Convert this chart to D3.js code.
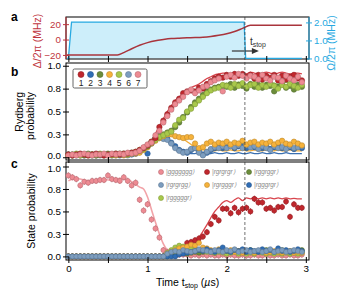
<!DOCTYPE html>
<html>
<head>
<meta charset="utf-8">
<script src="https://cdn.jsdelivr.net/npm/d3@7"></script>
<style>
  body { margin: 0; background: #fff; }
  text { font-family: "Liberation Sans", Arial, Helvetica, sans-serif; }
</style>
</head>
<body>
<svg id="fig" width="343" height="299"></svg>
<script>
// ---- data ----
const times = [0,0.05,0.1,0.15,0.2,0.25,0.3,0.35,0.4,0.45,
  0.5,0.55,0.6,0.65,0.7,0.75,0.8,0.85,0.9,0.95,
  1,1.05,1.1,1.15,1.2,1.25,1.3,1.35,1.4,1.45,
  1.5,1.55,1.6,1.65,1.7,1.75,1.8,1.85,1.9,1.95,
  2,2.05,2.1,2.15,2.2,2.25,2.3,2.35,2.4,2.45,
  2.5,2.55,2.6,2.65,2.7,2.75,2.8,2.85,2.9,2.95];

const tStop = 2.23;

// panel a: detuning sweep and Rabi drive
const sweepT = [-0.02,0.62,0.7,0.8,0.9,1.0,1.1,1.2,1.3,1.4,1.5,1.6,1.7,1.8,1.9,2.0,2.1,2.2,2.3,2.95];
const sweepDelta = [-20,-20,-17,-12,-7.5,-4,-1.5,0,1.2,1.8,2.2,2.5,3,4,5.5,7.5,10.5,14.5,18.5,18.5];
const rabiT = [-0.02,0,0.04,2.22,2.24,2.95];
const rabiOmega = [0,0,2.02,2.02,0,0];

// panel b: Rydberg probability per site
const site1 = [0.03,0.02,0.03,0.04,0.03,0.02,0.03,0.04,0.03,0.02,
  0.03,0.03,0.04,0.03,0.04,0.04,0.05,0.06,0.08,0.1,
  0.13,0.17,0.21,0.33,0.4,0.47,0.54,0.6,0.64,0.7,
  0.72,0.73,0.72,0.76,0.75,0.8,0.83,0.86,0.88,0.87,
  0.9,0.88,0.91,0.89,0.91,0.88,0.9,0.86,0.9,0.85,
  0.89,0.87,0.9,0.84,0.89,0.85,0.88,0.9,0.86,0.84];
const site2 = [0.02,0.03,0.02,0.03,0.02,0.03,0.02,0.02,0.03,0.02,
  0.03,0.02,0.03,0.02,0.03,0.03,0.03,0.04,0.06,0.09,
  0.04,0.15,0.2,0.23,0.22,0.2,0.16,0.12,0.08,0.06,
  0.05,0.08,0.1,0.06,0.03,0.05,0.08,0.1,0.12,0.1,
  0.11,0.13,0.1,0.12,0.14,0.1,0.12,0.11,0.13,0.1,
  0.12,0.09,0.11,0.13,0.1,0.12,0.11,0.09,0.12,0.1];
const site3 = [0.03,0.02,0.03,0.03,0.02,0.04,0.03,0.02,0.03,0.03,
  0.04,0.03,0.03,0.04,0.03,0.04,0.05,0.05,0.07,0.1,
  0.12,0.16,0.2,0.23,0.25,0.27,0.29,0.33,0.38,0.44,
  0.49,0.55,0.6,0.64,0.68,0.72,0.74,0.76,0.77,0.78,
  0.77,0.8,0.76,0.79,0.78,0.75,0.8,0.77,0.79,0.76,
  0.79,0.78,0.72,0.77,0.8,0.76,0.78,0.74,0.79,0.77];
const site4 = [0.02,0.02,0.03,0.02,0.03,0.02,0.03,0.02,0.03,0.02,
  0.02,0.03,0.02,0.03,0.02,0.03,0.04,0.04,0.05,0.08,
  0.11,0.15,0.18,0.21,0.23,0.25,0.25,0.23,0.22,0.21,
  0.22,0.22,0.15,0.1,0.11,0.15,0.17,0.14,0.16,0.15,
  0.17,0.14,0.16,0.15,0.18,0.14,0.16,0.17,0.14,0.16,
  0.15,0.17,0.14,0.16,0.18,0.15,0.14,0.17,0.15,0.13];
const site5 = [0.02,0.03,0.04,0.02,0.03,0.03,0.02,0.03,0.04,0.03,
  0.03,0.02,0.04,0.03,0.04,0.03,0.04,0.06,0.08,0.09,
  0.13,0.17,0.19,0.22,0.24,0.26,0.28,0.35,0.41,0.43,
  0.5,0.53,0.58,0.62,0.66,0.7,0.73,0.75,0.76,0.79,
  0.78,0.76,0.8,0.78,0.81,0.77,0.79,0.8,0.76,0.79,
  0.77,0.8,0.78,0.75,0.79,0.77,0.8,0.78,0.76,0.79];
const site6 = [0.03,0.02,0.03,0.02,0.03,0.02,0.03,0.03,0.02,0.03,
  0.02,0.03,0.02,0.03,0.03,0.02,0.04,0.04,0.06,0.09,
  0.12,0.16,0.2,0.21,0.2,0.19,0.15,0.1,0.07,0.05,
  0.06,0.09,0.1,0.05,0.02,0.06,0.09,0.11,0.1,0.12,
  0.1,0.12,0.11,0.13,0.1,0.13,0.11,0.12,0.09,0.12,
  0.1,0.08,0.12,0.1,0.11,0.09,0.12,0.1,0.11,0.12];
const site7 = [0.02,0.03,0.02,0.03,0.04,0.03,0.02,0.03,0.03,0.04,
  0.02,0.04,0.03,0.04,0.03,0.05,0.04,0.05,0.07,0.11,
  0.14,0.16,0.24,0.29,0.38,0.45,0.52,0.58,0.62,0.66,
  0.71,0.74,0.7,0.73,0.77,0.78,0.82,0.84,0.86,0.72,
  0.88,0.9,0.87,0.91,0.89,0.86,0.89,0.88,0.85,0.9,
  0.86,0.84,0.88,0.87,0.83,0.89,0.86,0.84,0.88,0.82];

// theory curves for panel b
const theoryEdge = [0.02,0.02,0.02,0.02,0.02,0.02,0.02,0.02,0.02,0.02,
  0.02,0.02,0.02,0.02,0.02,0.02,0.03,0.03,0.05,0.08,
  0.12,0.18,0.26,0.34,0.42,0.5,0.56,0.62,0.66,0.7,
  0.73,0.76,0.78,0.8,0.83,0.86,0.88,0.9,0.91,0.92,
  0.92,0.91,0.93,0.92,0.92,0.91,0.93,0.92,0.91,0.92,
  0.93,0.92,0.91,0.92,0.93,0.92,0.91,0.92,0.92,0.91];
const theoryInner = [0.02,0.02,0.02,0.02,0.02,0.02,0.02,0.02,0.02,0.02,
  0.02,0.02,0.02,0.02,0.02,0.02,0.03,0.03,0.05,0.08,
  0.11,0.15,0.19,0.22,0.24,0.26,0.29,0.33,0.38,0.43,
  0.49,0.54,0.59,0.64,0.68,0.72,0.75,0.77,0.79,0.8,
  0.81,0.8,0.81,0.82,0.81,0.8,0.81,0.82,0.81,0.8,
  0.81,0.82,0.81,0.8,0.81,0.82,0.81,0.8,0.81,0.81];
const theoryMid = [0.02,0.02,0.02,0.02,0.02,0.02,0.02,0.02,0.02,0.02,
  0.02,0.02,0.02,0.02,0.02,0.02,0.03,0.03,0.05,0.08,
  0.11,0.15,0.19,0.22,0.24,0.25,0.25,0.24,0.22,0.2,
  0.17,0.14,0.11,0.09,0.08,0.08,0.07,0.07,0.08,0.07,
  0.07,0.08,0.07,0.07,0.08,0.07,0.07,0.08,0.07,0.07,
  0.08,0.07,0.07,0.08,0.07,0.07,0.08,0.07,0.07,0.07];
const theoryOuter = [0.02,0.02,0.02,0.02,0.02,0.02,0.02,0.02,0.02,0.02,
  0.02,0.02,0.02,0.02,0.02,0.02,0.03,0.03,0.05,0.08,
  0.12,0.17,0.22,0.25,0.24,0.21,0.17,0.13,0.09,0.07,
  0.05,0.04,0.04,0.05,0.05,0.04,0.04,0.05,0.04,0.04,
  0.05,0.04,0.04,0.05,0.04,0.04,0.05,0.04,0.04,0.05,
  0.04,0.04,0.05,0.04,0.04,0.05,0.04,0.04,0.04,0.04];

// panel c: state probabilities
const stateGround = [0.9,0.88,0.86,0.79,0.83,0.82,0.84,0.84,0.85,0.85,
  0.9,0.86,0.85,0.84,0.88,0.84,0.79,0.82,0.63,0.51,
  0.58,0.41,0.31,0.21,0.07,0.05,0.03,0.02,0.02,0.02,
  0.02,0.01,0.02,0.01,0.02,0.01,0.02,0.01,0.01,0.02,
  0.01,0.02,0.01,0.01,0.02,0.01,0.01,0.02,0.01,0.01,
  0.02,0.01,0.01,0.02,0.01,0.01,0.02,0.01,0.01,0.02];
const stateNeel = [0,0,0,0,0,0,0,0,0,0,
  0,0,0,0,0,0,0,0,0,0,
  0,0,0,0,0,0.01,0.01,0.01,0.04,0.08,
  0.15,0.16,0.18,0.2,0.22,0.27,0.36,0.44,0.4,0.53,
  0.53,0.48,0.54,0.49,0.53,0.54,0.5,0.64,0.6,0.6,
  0.53,0.54,0.51,0.55,0.55,0.61,0.44,0.58,0.54,0.54];
const stateRggrggr = [0,0,0,0,0,0,0,0,0,0,
  0,0,0,0,0,0,0,0,0,0,
  0,0,0,0,0,0,0.02,0.03,0.03,0.04,
  0.03,0.04,0.05,0.04,0.05,0.06,0.05,0.04,0.06,0.05,
  0.06,0.05,0.07,0.06,0.05,0.06,0.07,0.05,0.06,0.05,
  0.07,0.06,0.05,0.06,0.07,0.05,0.06,0.05,0.06,0.07];
const stateRgrgrgg = [0,0,0,0,0,0,0,0,0,0,
  0,0,0,0,0,0,0,0,0,0,
  0,0,0,0,0,0.03,0.05,0.06,0.05,0.07,
  0.06,0.05,0.06,0.08,0.07,0.06,0.05,0.07,0.06,0.05,
  0.07,0.06,0.08,0.05,0.06,0.07,0.05,0.06,0.07,0.05,
  0.06,0.08,0.05,0.06,0.07,0.05,0.06,0.07,0.06,0.05];
const stateRgrgggr = [0,0,0,0,0,0,0,0,0,0,
  0,0,0,0,0,0,0,0,0,0,
  0,0,0,0,0,0.03,0.05,0.07,0.09,0.1,
  0.11,0.13,0.12,0.15,0.1,0.09,0.07,0.06,0.08,0.05,
  0.06,0.07,0.05,0.06,0.04,0.05,0.06,0.04,0.05,0.06,
  0.04,0.05,0.06,0.05,0.04,0.05,0.06,0.04,0.05,0.04];
const stateRgggrgr = [0,0,0,0,0,0,0,0,0,0,
  0,0,0,0,0,0,0,0,0,0,
  0,0,0,0,0,0,0,0,0.02,0.03,
  0.04,0.05,0.06,0.07,0.06,0.08,0.06,0.05,0.07,0.1,
  0.06,0.05,0.07,0.06,0.08,0.05,0.07,0.06,0.05,0.08,
  0.06,0.07,0.05,0.09,0.06,0.07,0.05,0.06,0.08,0.06];
const stateRgggggr = [0,0,0,0,0,0,0,0,0,0,
  0,0,0,0,0,0,0,0,0,0,
  0,0,0,0,0,0.04,0.07,0.1,0.12,0.11,
  0.1,0.09,0.08,0.07,0.06,0.05,0.05,0.04,0.05,0.04,
  0.03,0.04,0.05,0.03,0.04,0.03,0.04,0.03,0.05,0.04,
  0.03,0.04,0.03,0.04,0.03,0.04,0.03,0.04,0.03,0.04];

const theoryGround = [0.84,0.86,0.87,0.86,0.85,0.84,0.84,0.85,0.86,0.86,
  0.85,0.85,0.86,0.87,0.86,0.85,0.83,0.8,0.77,0.75,
  0.66,0.52,0.38,0.25,0.14,0.07,0.04,0.02,0.01,0.01,
  0.01,0.01,0.01,0.01,0.01,0.01,0.01,0.01,0.01,0.01,
  0.01,0.01,0.01,0.01,0.01,0.01,0.01,0.01,0.01,0.01,
  0.01,0.01,0.01,0.01,0.01,0.01,0.01,0.01,0.01,0.01];
const theoryNeel = [0,0,0,0,0,0,0,0,0,0,
  0,0,0,0,0,0,0,0,0,0,
  0,0,0,0,0,0,0,0,0.01,0.02,
  0.05,0.1,0.15,0.21,0.28,0.35,0.43,0.5,0.55,0.6,
  0.62,0.6,0.63,0.65,0.62,0.65,0.64,0.66,0.64,0.65,
  0.64,0.65,0.64,0.65,0.64,0.65,0.64,0.645,0.64,0.64];

const siteColors = ['#c0272d', '#2f6db5', '#6b8c3a', '#f6b23b', '#a8c84b', '#7c9dbf', '#ee8b93'];
const siteLabels = ['1', '2', '3', '4', '5', '6', '7'];
const siteSeries = [site1, site2, site3, site4, site5, site6, site7];

const stateLabels = ['|ggggggg\u27E9', '|rgrgrgr\u27E9', '|rggrggr\u27E9',
  '|rgrgrgg\u27E9', '|rgrgggr\u27E9', '|rgggrgr\u27E9', '|rgggggr\u27E9'];
const stateColors = ['#ee8b93', '#c0272d', '#6b8c3a', '#7c9dbf', '#f6b23b', '#2f6db5', '#a8c84b'];
const stateSeries = [stateGround, stateNeel, stateRggrggr, stateRgrgrgg, stateRgrgggr, stateRgggrgr, stateRgggggr];

// ---- layout ----
const svg = d3.select('#fig');
const left = 66, right = 309;
const x = d3.scaleLinear().domain([-0.03, 3.04]).range([left, right]);

const panA = { top: 17, bottom: 59 };
const panB = { top: 63, bottom: 160 };
const panC = { top: 162, bottom: 260 };

const yD = d3.scaleLinear().domain([-25.3, 29.3]).range([panA.bottom, panA.top]);
const yO = d3.scaleLinear().domain([-0.03, 2.3]).range([panA.bottom, panA.top]);
const yB = d3.scaleLinear().domain([-0.03, 1.03]).range([panB.bottom, panB.top]);
const yC = d3.scaleLinear().domain([-0.04, 1.05]).range([panC.bottom, panC.top]);

const red = '#c0353d', blue = '#27a9e1';
const xTicks = [0, 0.5, 1, 1.5, 2, 2.5, 3];
const tickFont = 9.8;

// axis helper: ticks that cross the frame
function crossTicks(g, dir) {
  g.select('.domain').remove();
  if (dir === 'x') g.selectAll('.tick line').attr('y1', -3);
  else if (dir === 'l') g.selectAll('.tick line').attr('x1', 3);
  else g.selectAll('.tick line').attr('x1', -3);
  g.selectAll('.tick text').attr('font-size', tickFont).attr('font-family', '"Liberation Sans", Arial, sans-serif');
}

function bottomAxis(pan, labelled) {
  svg.append('g')
    .attr('transform', `translate(0,${pan.bottom})`)
    .call(d3.axisBottom(x).tickValues(xTicks).tickSize(3).tickPadding(2)
      .tickFormat(d => labelled && Number.isInteger(d) ? d : ''))
    .call(g => crossTicks(g, 'x'));
}

function frame(pan) {
  svg.append('rect')
    .attr('x', left).attr('y', pan.top)
    .attr('width', right - left).attr('height', pan.bottom - pan.top)
    .attr('fill', 'none').attr('stroke', '#000').attr('stroke-width', 1);
}

// ---- panel a ----
svg.append('path')
  .datum(rabiT.map((t, i) => [t, rabiOmega[i]]))
  .attr('fill', '#cdeefa')
  .attr('d', d3.area().x(d => x(d[0])).y0(yO(0)).y1(d => yO(d[1])));

frame(panA);

svg.append('path')
  .datum(rabiT.map((t, i) => [t, rabiOmega[i]]))
  .attr('fill', 'none').attr('stroke', blue).attr('stroke-width', 1.3)
  .attr('d', d3.line().x(d => x(d[0])).y(d => yO(d[1])));

svg.append('path')
  .datum(sweepT.map((t, i) => [t, sweepDelta[i]]))
  .attr('fill', 'none').attr('stroke', '#a9343c').attr('stroke-width', 1.5)
  .attr('d', d3.line().x(d => x(d[0])).y(d => yD(d[1])).curve(d3.curveMonotoneX));

svg.append('line')
  .attr('x1', left).attr('x2', left).attr('y1', panA.top).attr('y2', panA.bottom)
  .attr('stroke', red).attr('stroke-width', 1);
svg.append('line')
  .attr('x1', right).attr('x2', right).attr('y1', panA.top).attr('y2', panA.bottom)
  .attr('stroke', blue).attr('stroke-width', 1);

svg.append('g')
  .attr('transform', `translate(${left},0)`)
  .call(d3.axisLeft(yD).tickValues([-20, 0, 20]).tickSize(3).tickPadding(2)
    .tickFormat(d => d < 0 ? '\u2212' + (-d) : d))
  .call(g => crossTicks(g, 'l'))
  .call(g => g.selectAll('.tick line').attr('stroke', red))
  .call(g => g.selectAll('.tick text').attr('fill', red));

svg.append('g')
  .attr('transform', `translate(${right},0)`)
  .call(d3.axisRight(yO).tickValues([0, 1, 2]).tickSize(3).tickPadding(2))
  .call(g => crossTicks(g, 'r'))
  .call(g => g.selectAll('.tick line').attr('stroke', blue))
  .call(g => g.selectAll('.tick text').attr('fill', blue));

bottomAxis(panA, false);

svg.append('text')
  .attr('transform', `translate(41,${(panA.top + panA.bottom) / 2 + 3}) rotate(-90)`)
  .attr('text-anchor', 'middle').attr('font-size', 10.5).attr('fill', red)
  .text('\u0394/2\u03C0 (MHz)');
svg.append('text')
  .attr('transform', `translate(335,${(panA.top + panA.bottom) / 2 + 5}) rotate(-90)`)
  .attr('text-anchor', 'middle').attr('font-size', 10.5).attr('fill', blue)
  .text('\u03A9/2\u03C0 (MHz)');

// t_stop annotation
const ann = svg.append('g').attr('fill', '#333');
ann.append('text')
  .attr('x', x(tStop) + 5).attr('y', 45).attr('font-size', 10)
  .text('t')
  .append('tspan').attr('font-size', 7).attr('dy', 2).text('stop');
ann.append('line')
  .attr('x1', x(tStop) - 13).attr('x2', x(tStop) + 9)
  .attr('y1', 51).attr('y2', 51)
  .attr('stroke', '#333').attr('stroke-width', 1.2);
ann.append('path')
  .attr('d', `M${x(tStop) + 14},51 L${x(tStop) + 7},48 L${x(tStop) + 7},54 Z`);

// ---- shared marker drawing ----
function drawPoints(y, values, color, r, err) {
  const g = svg.append('g');
  const dark = d3.color(color).darker(0.7).formatHex();
  const pts = times.map((t, i) => [t, values[i]]);
  g.selectAll('line').data(pts).join('line')
    .attr('x1', d => x(d[0])).attr('x2', d => x(d[0]))
    .attr('y1', d => y(d[1] - err)).attr('y2', d => y(d[1] + err))
    .attr('stroke', dark).attr('stroke-width', 0.9);
  g.selectAll('circle').data(pts).join('circle')
    .attr('cx', d => x(d[0])).attr('cy', d => y(d[1])).attr('r', r)
    .attr('fill', color).attr('stroke', dark).attr('stroke-width', 0.6);
}

function drawTheory(y, values, color, w) {
  svg.append('path')
    .datum(times.map((t, i) => [t, values[i]]))
    .attr('fill', 'none').attr('stroke', color).attr('stroke-width', w)
    .attr('d', d3.line().x(d => x(d[0])).y(d => y(d[1])).curve(d3.curveMonotoneX));
}

// ---- panel b ----
frame(panB);
drawTheory(yB, theoryOuter, '#3a6fb0', 1.2);
drawTheory(yB, theoryMid, '#f0a830', 1.2);
drawTheory(yB, theoryInner, '#7ba446', 1.3);
drawTheory(yB, theoryEdge, '#d8444c', 1.3);

[1, 5, 3, 2, 4, 0, 6].forEach(k => drawPoints(yB, siteSeries[k], siteColors[k], 2.7, 0.025));

svg.append('g')
  .attr('transform', `translate(${left},0)`)
  .call(d3.axisLeft(yB).tickValues([0, 0.25, 0.5, 0.75, 1]).tickSize(3).tickPadding(2))
  .call(g => crossTicks(g, 'l'))
  .call(g => g.selectAll('.tick text').filter(d => d === 0).attr('dy', '0.1em'));
bottomAxis(panB, false);

// legend b
const legB = svg.append('g');
legB.append('rect')
  .attr('x', 73).attr('y', 69).attr('width', 74).attr('height', 19).attr('rx', 1.5)
  .attr('fill', '#fff').attr('stroke', '#555').attr('stroke-width', 0.9);
siteLabels.forEach((lab, i) => {
  legB.append('circle')
    .attr('cx', 81 + i * 9.5).attr('cy', 74.5).attr('r', 3)
    .attr('fill', siteColors[i]).attr('stroke', d3.color(siteColors[i]).darker(0.7)).attr('stroke-width', 0.6);
  legB.append('text')
    .attr('x', 81 + i * 9.5).attr('y', 86).attr('text-anchor', 'middle')
    .attr('font-size', 8.5).attr('fill', '#222').text(lab);
});

svg.append('text')
  .attr('transform', 'translate(23,92) rotate(-90)')
  .attr('text-anchor', 'end').attr('font-size', 10.5).text('Rydberg');
svg.append('text')
  .attr('transform', 'translate(34,92) rotate(-90)')
  .attr('text-anchor', 'end').attr('font-size', 10.5).text('probability');

// ---- panel c ----
frame(panC);
drawTheory(yC, theoryGround, '#f2a3a8', 1.6);
drawTheory(yC, theoryNeel, '#d8444c', 1.3);
[1, 0, 2, 6, 4, 5, 3].forEach(k => drawPoints(yC, stateSeries[k], stateColors[k], 2.5, k < 2 ? 0.035 : 0.02));

svg.append('g')
  .attr('transform', `translate(${left},0)`)
  .call(d3.axisLeft(yC).tickValues([0, 0.25, 0.5, 0.75, 1]).tickSize(3).tickPadding(2))
  .call(g => crossTicks(g, 'l'))
  .call(g => g.selectAll('.tick text').filter(d => d === 1).attr('dy', '0.5em'));
bottomAxis(panC, true);

// legend c
const legX = [161, 207, 249], legY = [172, 185, 198];
stateLabels.forEach((lab, i) => {
  const cx = legX[i % 3], cy = legY[Math.floor(i / 3)];
  svg.append('circle')
    .attr('cx', cx).attr('cy', cy).attr('r', 2.5)
    .attr('fill', stateColors[i]).attr('stroke', d3.color(stateColors[i]).darker(0.7)).attr('stroke-width', 0.6);
  svg.append('text')
    .attr('x', cx + 5).attr('y', cy + 2.3)
    .attr('font-size', 6.3).attr('font-style', 'italic').attr('fill', '#888')
    .attr('font-family', '"DejaVu Sans", sans-serif')
    .text(lab);
});

svg.append('text')
  .attr('transform', `translate(35,${(panC.top + panC.bottom) / 2}) rotate(-90)`)
  .attr('text-anchor', 'middle').attr('font-size', 10.5).text('State probability');

const xl = svg.append('text')
  .attr('x', (left + right) / 2).attr('y', 286).attr('text-anchor', 'middle').attr('font-size', 10.5);
xl.append('tspan').text('Time t');
xl.append('tspan').attr('font-size', 7).attr('dy', 2).text('stop');
xl.append('tspan').attr('dy', -2).text(' (');
xl.append('tspan').attr('font-style', 'italic').text('\u00B5');
xl.append('tspan').text('s)');

// t_stop marker line across all panels
svg.append('line')
  .attr('x1', x(tStop)).attr('x2', x(tStop))
  .attr('y1', panA.top).attr('y2', panC.bottom)
  .attr('stroke', '#333').attr('stroke-width', 0.7).attr('stroke-dasharray', '3,2');

// panel letters
[['a', 21], ['b', 76], ['c', 168]].forEach(([l, yy]) => {
  svg.append('text').attr('x', 11).attr('y', yy)
    .attr('font-size', 12).attr('font-weight', 'bold').text(l);
});
</script>
</body>
</html>
